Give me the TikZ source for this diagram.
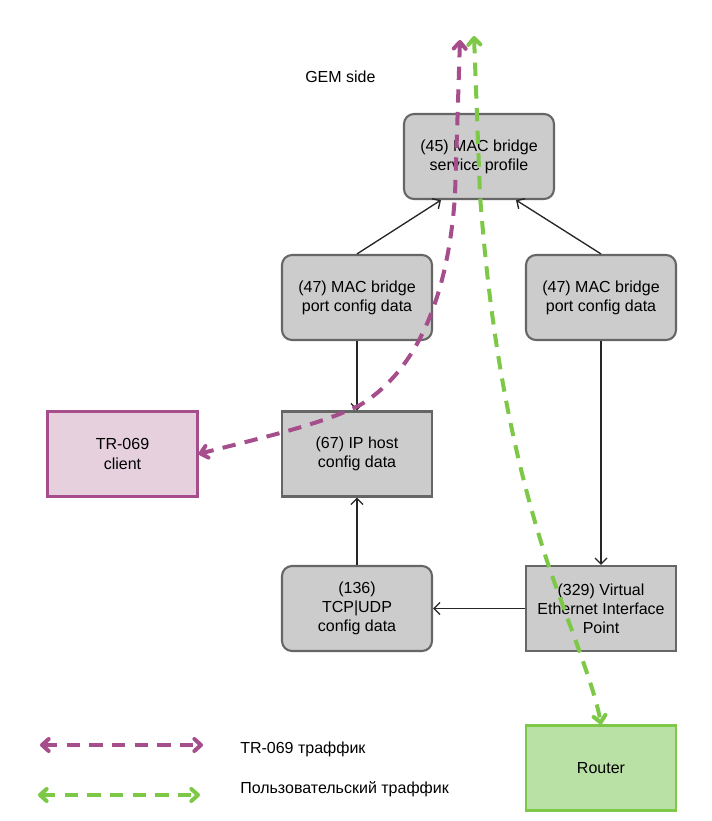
\documentclass[tikz,border=0pt]{standalone}
\usepackage{fontspec}
\setmainfont{Liberation Sans}
\usetikzlibrary{arrows.meta}
\definecolor{boxfill}{HTML}{CCCCCC}
\definecolor{boxline}{HTML}{666666}
\definecolor{trline}{HTML}{A64D8C}
\definecolor{trfill}{HTML}{E6D0DE}
\definecolor{usrline}{HTML}{7DC947}
\definecolor{usrfill}{HTML}{B9E0A5}
\tikzset{
  obox/.style={draw=boxline, fill=boxfill, line width=1.6pt, minimum width=112.5pt, minimum height=63.75pt, align=center, font=\fontsize{12}{14.3}\selectfont, inner sep=2pt},
  rbox/.style={obox, rounded corners=7.5pt},
  conn/.style={draw=black!85, line width=1pt, -{Straight Barb[length=4.5pt,width=9pt]}},
  trflow/.style={draw=trline, line width=3pt, dash pattern=on 10pt off 7pt, {Straight Barb[round,length=5pt,width=9pt]}-{Straight Barb[round,length=5pt,width=9pt]}},
  usrflow/.style={draw=usrline, line width=3pt, dash pattern=on 10pt off 7pt, {Straight Barb[round,length=5pt,width=9pt]}-{Straight Barb[round,length=5pt,width=9pt]}},
  lbl/.style={font=\fontsize{12}{14.3}\selectfont, anchor=west, inner sep=0pt}
}
\begin{document}
\begin{tikzpicture}[x=0.75pt,y=-0.75pt]
\useasboundingbox[fill=white] (0,0) rectangle (711,821);
% nodes
\node[rbox] (msp) at (479,156.5) {(45) MAC bridge\\service profile};
\node[rbox] (pcl) at (357,297.5) {(47) MAC bridge\\port config data};
\node[rbox] (pcr) at (601,297.5) {(47) MAC bridge\\port config data};
\node[obox] (iph) at (357,454) {(67) IP host\\config data};
\node[rbox] (tcp) at (357,608.5) {(136)\\TCP|UDP\\config data};
\node[obox] (veip) at (601,608.5) {(329) Virtual\\Ethernet Interface\\Point};
\node[obox, draw=trline, fill=trfill] (tr) at (122.5,454) {TR-069\\client};
\node[obox, draw=usrline, fill=usrfill] (router) at (601,768) {Router};
\node[lbl] (gem) at (305,77) {GEM side};
\node[lbl] (lgtr) at (240,749) {TR-069 траффик};
\node[lbl] (lgusr) at (240,789) {Пользовательский траффик};
% connectors
\draw[conn] (pcl.north) -- ([xshift=-28.5pt]msp.south);
\draw[conn] (pcr.north) -- ([xshift=27.75pt]msp.south);
\draw[conn] (pcl.south) -- (iph.north);
\draw[conn] (pcr.south) -- (veip.north);
\draw[conn] (tcp.north) -- (iph.south);
\draw[conn] (veip.west) -- (tcp.east);
% traffic flows
\coordinate (gemT) at (460,40);
\coordinate (gemU) at (474,36);
\draw[trflow] (gemT) -- (455,195) .. controls (448,300) and (415,372) .. (360,405) .. controls (320,425) and (260,438) .. (tr.east);
\draw[usrflow] (gemU) -- (480,195) .. controls (490,330) and (510,450) .. (550,570) .. controls (575,640) and (595,690) .. (router.north);
% legend
\coordinate (l1a) at (40,745);
\coordinate (l1b) at (203,745);
\coordinate (l2a) at (38,795);
\coordinate (l2b) at (200,795);
\draw[trflow] (l1a) -- (l1b);
\draw[usrflow] (l2a) -- (l2b);
\end{tikzpicture}
\end{document}
